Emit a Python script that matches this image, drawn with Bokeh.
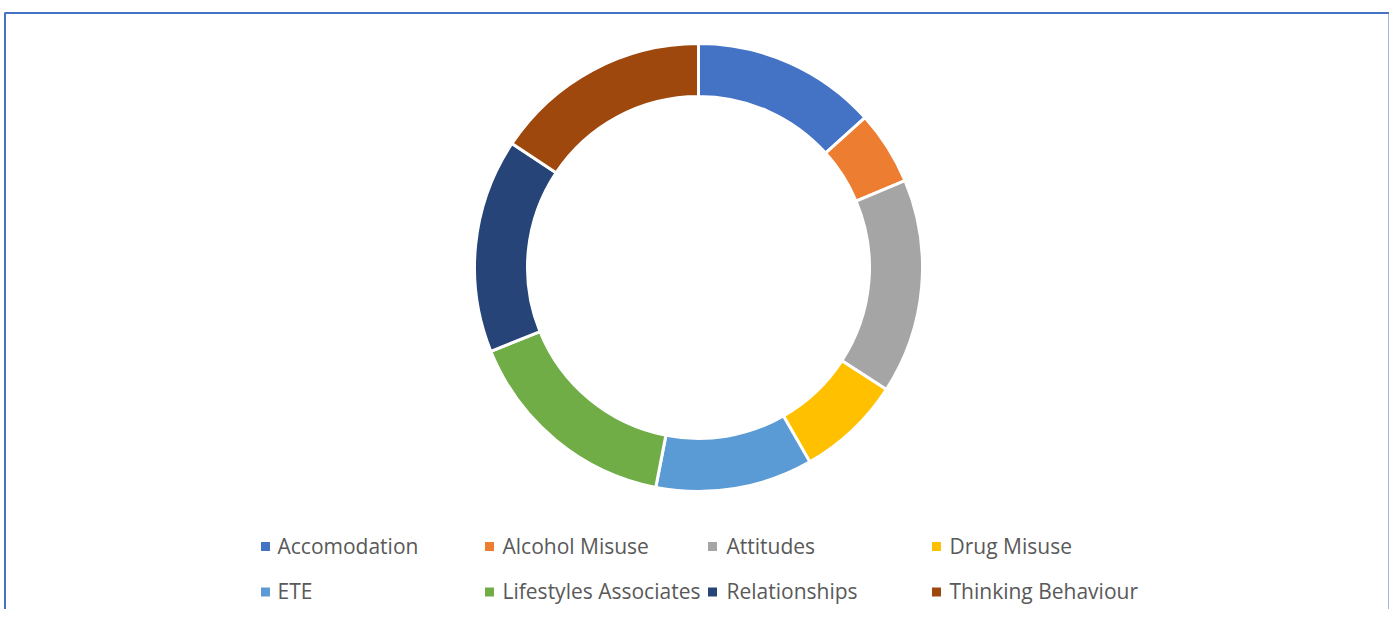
import math
from bokeh.plotting import figure
from bokeh.models import Range1d, ColumnDataSource
from bokeh.core.properties import value
from bokeh.embed import file_html
from bokeh.resources import INLINE

categories = ["Accomodation", "Alcohol Misuse", "Attitudes", "Drug Misuse",
              "ETE", "Lifestyles Associates", "Relationships", "Thinking Behaviour"]
values = [48, 19.2, 55.8, 27.2, 40.8, 57, 55.6, 56.4]
colors = ["#4472C4", "#ED7D31", "#A5A5A5", "#FFC000",
          "#5B9BD5", "#70AD47", "#264478", "#9E480E"]

W, H = 1389, 609
p = figure(width=W, height=H, output_backend="svg", toolbar_location=None,
           x_range=Range1d(0, W), y_range=Range1d(0, H), min_border=0)
p.axis.visible = False
p.grid.visible = False
p.outline_line_color = None
p.background_fill_color = "white"
p.border_fill_color = "white"

def px(x):
    return x

def py(y):
    return H - y

# donut
total = sum(values)
starts, ends = [], []
cum = 0.0
for v in values:
    a0 = cum / total * 2 * math.pi
    cum += v
    a1 = cum / total * 2 * math.pi
    starts.append(math.pi / 2 - a1)
    ends.append(math.pi / 2 - a0)

src = ColumnDataSource(dict(start=starts, end=ends, color=colors, cat=categories))
p.annular_wedge(x=px(698), y=py(267), inner_radius=171, outer_radius=224,
                start_angle="start", end_angle="end", direction="anticlock",
                fill_color="color", line_color="white", line_width=3, source=src)

# border (left, top, right)
bx0, bx1, by0 = px(4.5), px(1389), py(12.5)
p.line(x=[bx0, bx0, bx1, bx1], y=[-5, by0, by0, -5], line_color="#4472C4", line_width=2)

# legend
col_marker = [265, 489, 712, 936]
col_text = [277, 502, 726, 949]
row_marker = [546, 591.5]
row_base = [545, 590.3]
mx, my, tx, ty = [], [], [], []
for i, c in enumerate(categories):
    r, k = divmod(i, 4)
    mx.append(px(col_marker[k])); my.append(py(row_marker[r]))
    tx.append(px(col_text[k])); ty.append(py(row_base[r]))
lsrc = ColumnDataSource(dict(mx=mx, my=my, tx=tx, ty=ty, color=colors, cat=categories))
p.rect(x="mx", y="my", width=9, height=9, fill_color="color", line_color=None, source=lsrc)
p.text(x="tx", y="ty", text="cat", source=lsrc, text_font=value("Open Sans"),
       text_font_size="21px", text_color="#595959", text_baseline="alphabetic",
       text_align="left")

open("out.html", "w").write(file_html(p, INLINE))
